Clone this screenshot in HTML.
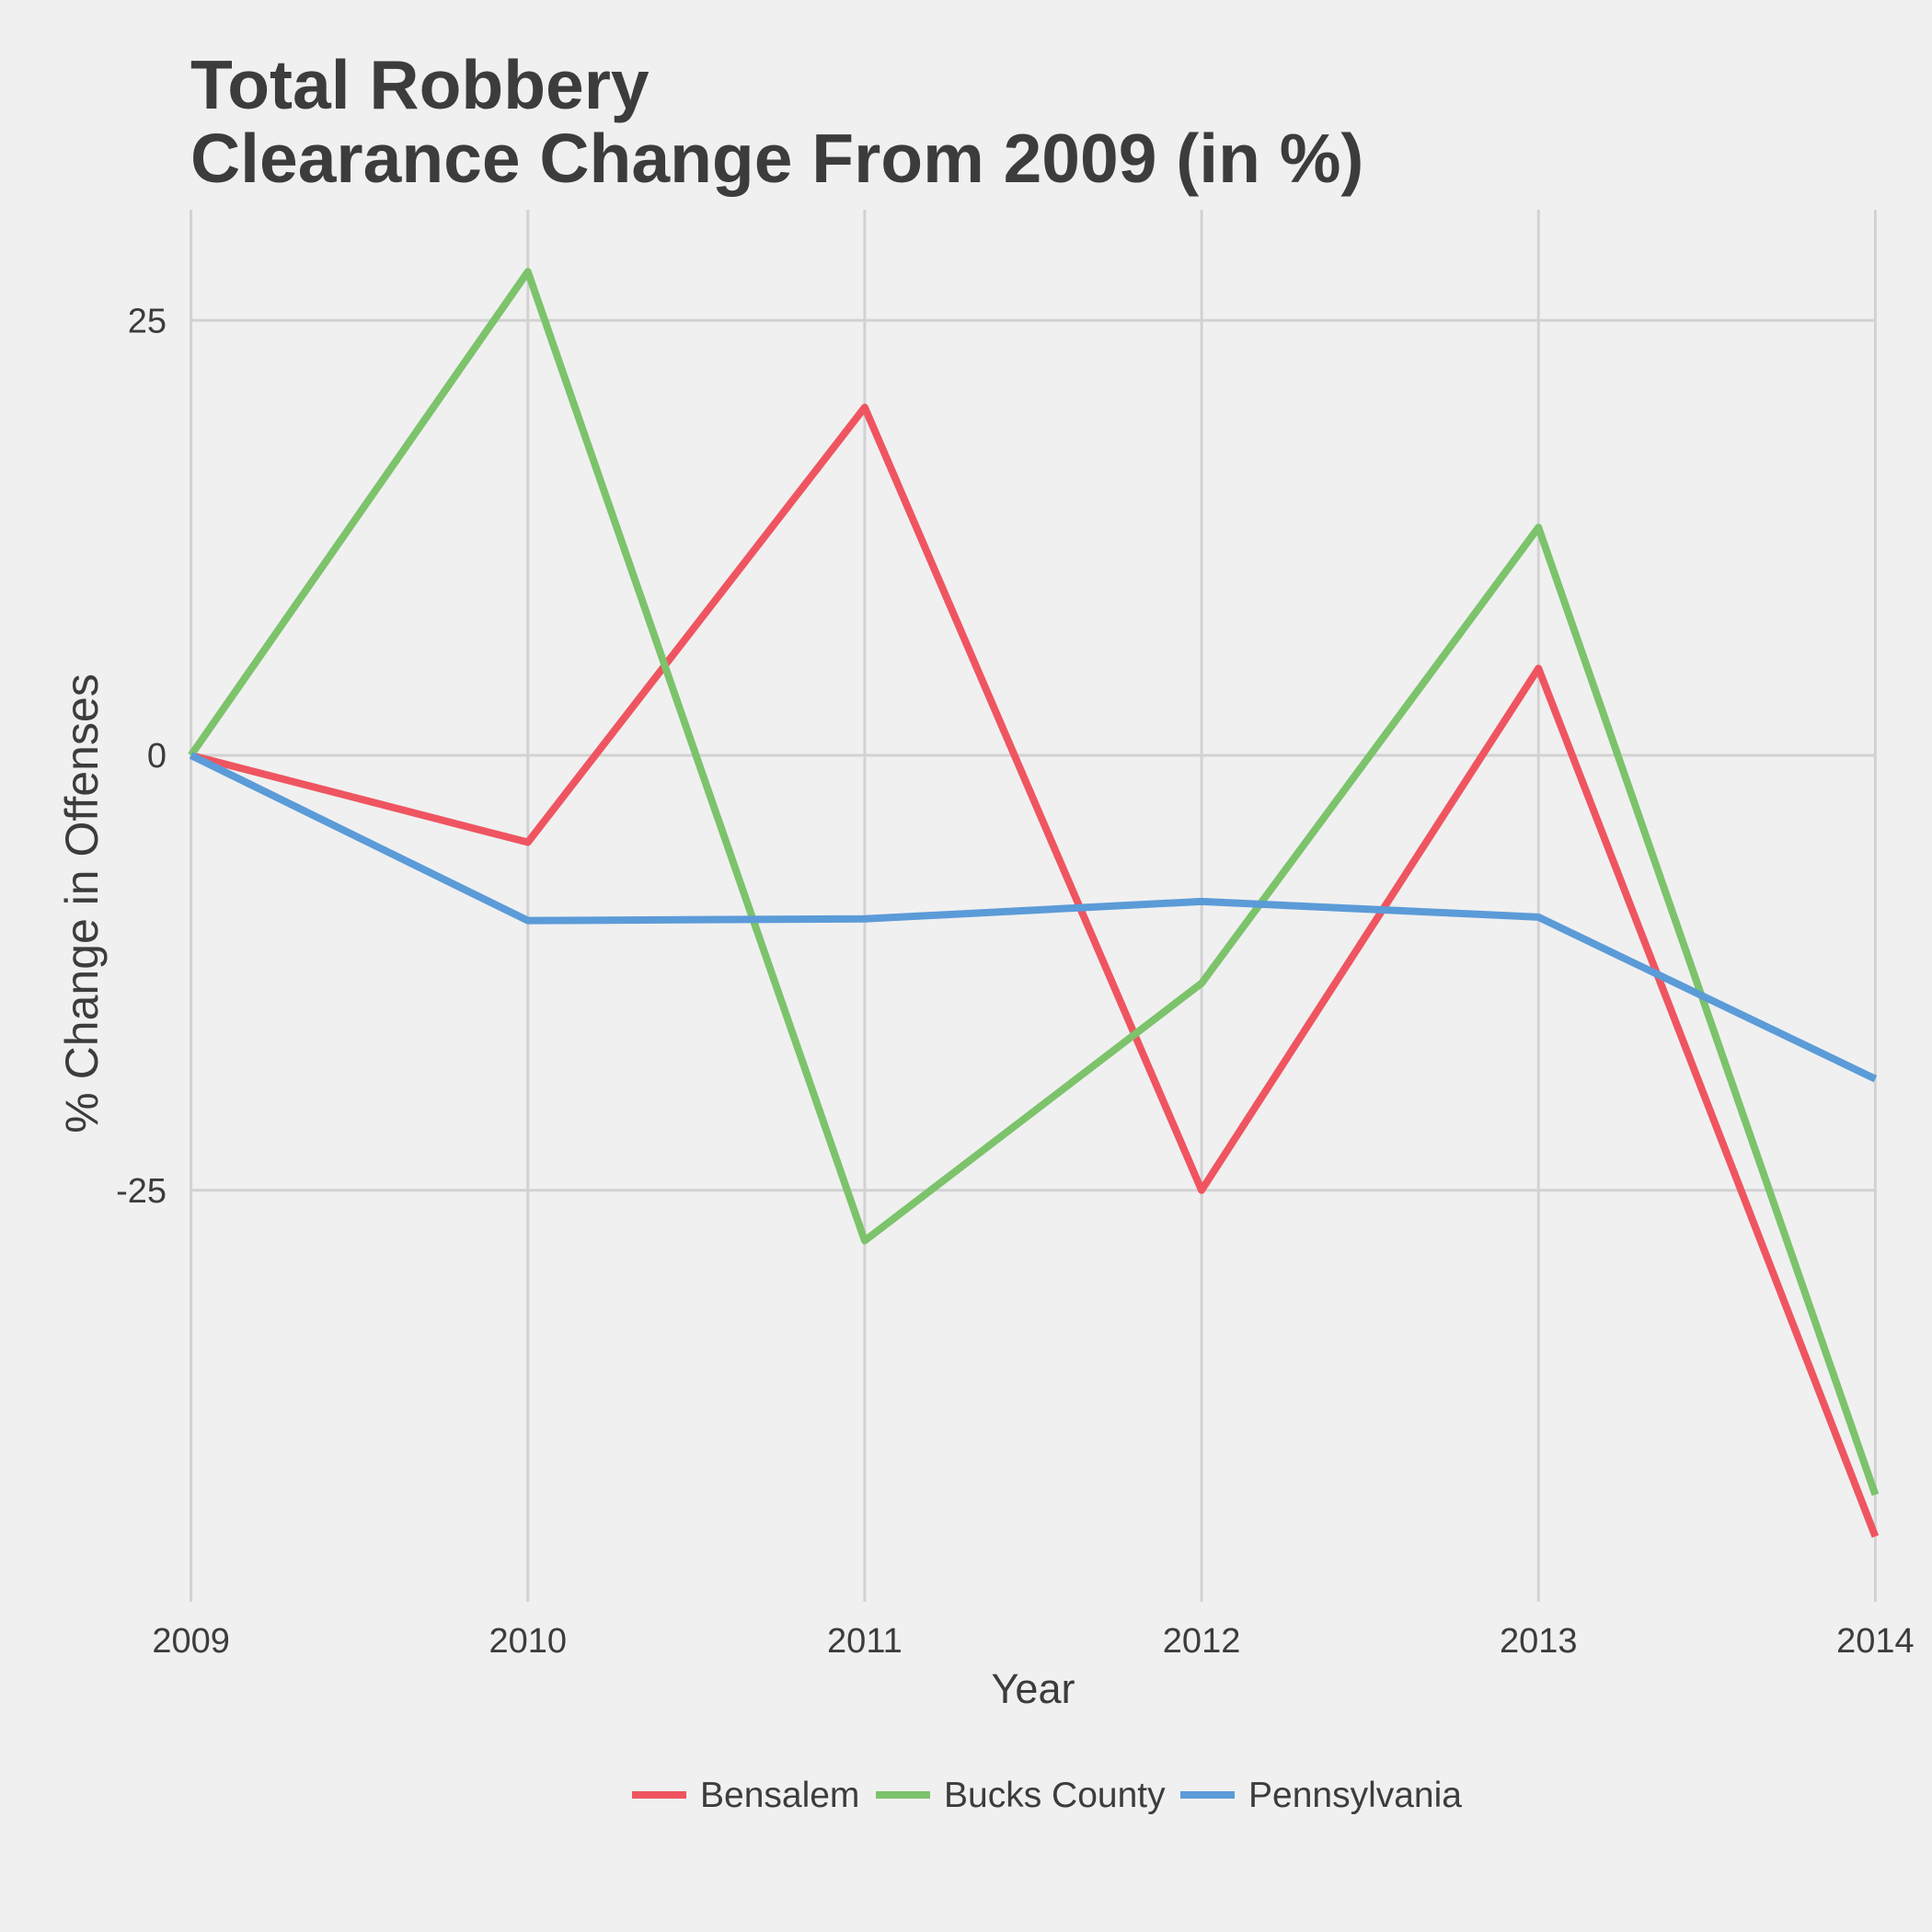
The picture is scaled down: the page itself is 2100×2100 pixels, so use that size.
<!DOCTYPE html>
<html><head><meta charset="utf-8"><style>
html,body{margin:0;padding:0;background:#f0f0f0;}
svg{display:block;font-family:"Liberation Sans",Arial,sans-serif;}
</style></head><body>
<svg id="chart" width="2100" height="2100" viewBox="0 0 2100 2100">
<rect width="2100" height="2100" fill="#f0f0f0"/>
<text x="207" y="118" font-size="75" font-weight="bold" fill="#3c3c3c">Total Robbery</text>
<text x="207" y="198" font-size="75" font-weight="bold" fill="#3c3c3c">Clearance Change From 2009 (in %)</text>
<g id="grid"></g>
<g id="series"></g>
<g id="axes"></g>
<text x="1123" y="1851" font-size="45" fill="#3c3c3c" text-anchor="middle">Year</text>
<text transform="translate(106,982) rotate(-90)" font-size="50" fill="#3c3c3c" text-anchor="middle">% Change in Offenses</text>
<g id="legend"></g>
</svg>
<script>
const years = [2009, 2010, 2011, 2012, 2013, 2014];
const seriesNames = ["Bensalem", "Bucks County", "Pennsylvania"];
const bensalem = [0, -5.0, 20.0, -25.0, 5.0, -44.9];
const bucks = [0, 27.8, -27.9, -13.1, 13.1, -42.5];
const penn = [0, -9.5, -9.4, -8.4, -9.3, -18.6];
const yTicks = [-25, 0, 25];
const colors = ["#ef5560", "#7cc36b", "#5b9bd8"];
(function(){
const NS = "http://www.w3.org/2000/svg";
const x = v => 207.6 + (v - 2009) * (2038.4 - 207.6) / 5;
const y = v => 821 - v * 18.91;
const plotTop = 228, plotBottom = 1741;
function mk(tag, attrs, parent){const e=document.createElementNS(NS,tag);for(const k in attrs)e.setAttribute(k,attrs[k]);parent.appendChild(e);return e;}
const grid = document.getElementById('grid'), axes = document.getElementById('axes');
years.forEach(yr => {
  const l = mk('line',{x1:x(yr),x2:x(yr),y1:plotTop,y2:plotBottom,stroke:'#d2d2d2','stroke-width':3},grid);
  
  
  const t = mk('text',{x:x(yr),y:1796,'font-size':38,fill:'#3c3c3c','text-anchor':'middle'},axes);
  t.textContent = yr;
  
  
});
yTicks.forEach(v => {
  const l = mk('line',{x1:207.6,x2:2038.4,y1:y(v),y2:y(v),stroke:'#d2d2d2','stroke-width':3},grid);
  
  
  const t = mk('text',{x:181,y:y(v)+13,'font-size':38,fill:'#3c3c3c','text-anchor':'end'},axes);
  t.textContent = v;
  
  
});
const data = [bensalem, bucks, penn];
const sg = document.getElementById('series');
data.forEach((s, i) => {
  const p = mk('polyline',{points:s.map((v,j)=>x(years[j])+','+y(v)).join(' '),fill:'none',stroke:colors[i],'stroke-width':8,'stroke-linejoin':'round'},sg);
  
  
});
const lg = document.getElementById('legend');
const keyX = [687, 952, 1283];
seriesNames.forEach((n, i) => {
  const l = mk('line',{x1:keyX[i],x2:keyX[i]+59,y1:1951,y2:1951,stroke:colors[i],'stroke-width':8},lg);
  
  
  const t = mk('text',{x:keyX[i]+74,y:1964,'font-size':39,fill:'#3c3c3c'},lg);
  t.textContent = n;
  
  
});
})();
</script>
</body></html>
